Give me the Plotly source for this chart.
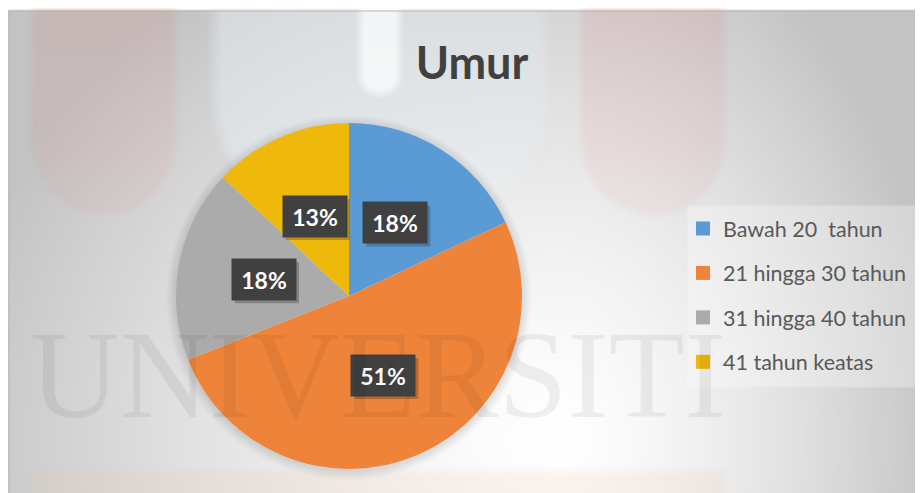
import math, zlib, struct, base64
import numpy as np
import plotly.graph_objects as go

# ---------------- data ----------------
categories = ["Bawah 20  tahun", "21 hingga 30 tahun", "31 hingga 40 tahun", "41 tahun keatas"]
percent_values = [18, 51, 18, 13]
slice_colors = ["#5B9BD5", "#EE843A", "#ABABAB", "#EFB90C"]
chart_title = "Umur"
watermark_text = "UNIVERSITI"

# ---------------- layout constants (page pixels) ----------------
PW, PH = 923, 493          # browser window
OFF = 8                    # default body margin of the page
FW, FH = PW - OFF, PH - OFF
PIE_CX, PIE_CY, PIE_R = 349, 296, 173
LABEL_RADIUS = 0.5
BOX_W, BOX_H, SHADOW = 64, 41, 3

def px2x(x):
    return (x - OFF) / FW

def px2y(y):
    return 1 - (y - OFF) / FH

# ---------------- background image (gradient + faint watermark) ----------------
def make_png(arr):
    h, w, _ = arr.shape
    prev = np.zeros_like(arr[0])
    rows = []
    for i in range(h):
        diff = (arr[i].astype(np.int16) - prev.astype(np.int16)) % 256
        rows.append(b"\x02" + diff.astype(np.uint8).tobytes())
        prev = arr[i]
    raw = b"".join(rows)
    def chunk(t, d):
        return struct.pack(">I", len(d)) + t + d + struct.pack(">I", zlib.crc32(t + d) & 0xffffffff)
    return (b"\x89PNG\r\n\x1a\n" + chunk(b"IHDR", struct.pack(">IIBBBBB", w, h, 8, 2, 0, 0, 0))
            + chunk(b"IDAT", zlib.compress(raw, 9)) + chunk(b"IEND", b""))

S = 2
h, w = (FH + S - 1) // S, (FW + S - 1) // S
X, Y = np.meshgrid(OFF + (np.arange(w) + 0.5) * S, OFF + (np.arange(h) + 0.5) * S)
img = np.full((h, w, 3), 255.0)
inside = (X >= 9) & (Y >= 11)
u = np.where(X < 560, (X - 560) / 620.0, (X - 560) / 390.0)
v = (Y - 440) / 560.0
d = np.clip(np.sqrt(u ** 2 + v ** 2), 0, 1)
g = 255 - 60 * d ** 1.4
img[inside] = np.repeat(g[inside][:, None], 3, axis=1)

def box_blur(a, r):
    if r <= 0:
        return a
    k = 2 * r + 1
    p = np.pad(a, r, mode="edge")
    c = np.cumsum(np.pad(p, ((0, 0), (1, 0))), axis=1)
    p = (c[:, k:] - c[:, :-k]) / k
    c = np.cumsum(np.pad(p, ((1, 0), (0, 0))), axis=0)
    return (c[k:, :] - c[:-k, :]) / k

def blend(mask, color, alpha, blur=2):
    a = box_blur(mask.astype(float), blur) * alpha
    a = a[:, :, None]
    img[:] = img * (1 - a) + np.array(color, float)[None, None, :] * a

def bar_mask(x0, x1, ybot):
    r = (x1 - x0) / 2.0
    cx = (x0 + x1) / 2.0
    return ((X >= x0) & (X <= x1) & (Y <= ybot - r)) | (((X - cx) ** 2 + (Y - (ybot - r)) ** 2) <= r * r)

def rounded_rect(x0, x1, ybot, rad):
    m = (X >= x0) & (X <= x1) & (Y <= ybot - rad)
    m |= (X >= x0 + rad) & (X <= x1 - rad) & (Y <= ybot)
    for cx in (x0 + rad, x1 - rad):
        m |= ((X - cx) ** 2 + (Y - (ybot - rad)) ** 2) <= rad * rad
    return m

pink_alpha = 0.15 - 0.07 * np.clip(Y / 215.0, 0, 1)
blend(bar_mask(33, 175, 215), (225, 120, 120), pink_alpha)
blend(bar_mask(583, 725, 215), (225, 120, 120), pink_alpha)
blend(rounded_rect(215, 545, 200, 95), (232, 242, 250), 0.42 * np.clip(1.15 - (X - 215) / 700.0, 0, 1), blur=3)
blend(bar_mask(360, 400, 95), (255, 255, 255), 0.7)
blend((X >= 33) & (X <= 723) & (Y >= 473), (235, 200, 170), 0.18)
blend((X >= 688) & (X <= 918) & (Y >= 207) & (Y <= 387), (255, 255, 255), 0.3, blur=0)
# soft shadow around the pie
rr = np.sqrt((X - PIE_CX) ** 2 + (Y - PIE_CY - 2) ** 2)
shadow = np.clip(1 - (rr - PIE_R) / 10.0, 0, 1) * (rr > PIE_R - 2)
img[:] = img * (1 - 0.12 * shadow[:, :, None])

png = make_png(np.clip(img, 0, 255).astype(np.uint8))
bg_uri = "data:image/png;base64," + base64.b64encode(png).decode()

# ---------------- figure ----------------
fig = go.Figure()
fig.add_trace(go.Pie(
    labels=categories, values=percent_values, sort=False, direction="clockwise", rotation=0,
    marker=dict(colors=slice_colors, line=dict(width=0)),
    textinfo="none", hoverinfo="label+percent", showlegend=False,
    domain=dict(x=[px2x(PIE_CX - PIE_R), px2x(PIE_CX + PIE_R)],
                y=[px2y(PIE_CY + PIE_R), px2y(PIE_CY - PIE_R)]),
))

# legend entries (one group per category so the gap between rows can be set)
for name, col in zip(categories, slice_colors):
    fig.add_trace(go.Scatter(x=[None], y=[None], mode="markers", name=name, legendgroup=name,
                             marker=dict(symbol="square", size=14, color=col)))

# data labels: dark boxes at half radius, mid-angle of each slice
total = sum(percent_values)
cum = 0
for val in percent_values:
    theta = 2 * math.pi * (cum + val / 2) / total
    cum += val
    lx = PIE_CX + LABEL_RADIUS * PIE_R * math.sin(theta)
    ly = PIE_CY - LABEL_RADIUS * PIE_R * math.cos(theta)
    # drop shadow of the label box
    fig.add_shape(type="rect", xref="paper", yref="paper", layer="above",
                  x0=px2x(lx - BOX_W / 2 + SHADOW), x1=px2x(lx + BOX_W / 2 + SHADOW),
                  y0=px2y(ly + BOX_H / 2 + SHADOW), y1=px2y(ly - BOX_H / 2 + SHADOW),
                  fillcolor="rgba(0,0,0,0.22)", line=dict(width=0))
    fig.add_annotation(x=px2x(lx), y=px2y(ly), xref="paper", yref="paper", showarrow=False,
                       xanchor="center", yanchor="middle", text=f"{val}%",
                       width=BOX_W, height=BOX_H, borderpad=0, bgcolor="#404040",
                       font=dict(family="Lato", size=23, color="white", weight="bold"))

# faint watermark text
fig.add_annotation(x=px2x(378), y=px2y(375), xref="paper", yref="paper", showarrow=False,
                   text=watermark_text, xanchor="center", yanchor="middle",
                   font=dict(family="Liberation Serif", size=124, color="rgba(0,0,0,0.06)"))

fig.add_shape(type="rect", xref="paper", yref="paper", x0=px2x(9), x1=1.01, y0=-0.01, y1=px2y(11),
              line=dict(color="#B8B8B8", width=1), fillcolor="rgba(0,0,0,0)", layer="below")

fig.update_layout(
    width=FW, height=FH, margin=dict(l=0, r=0, t=0, b=0),
    paper_bgcolor="white", plot_bgcolor="rgba(0,0,0,0)",
    xaxis=dict(visible=False), yaxis=dict(visible=False),
    title=dict(text=chart_title, x=px2x(472), y=px2y(63), xanchor="center", yanchor="middle",
               font=dict(family="Lato", size=45, color="#404040", weight="bold")),
    legend=dict(x=px2x(683), y=px2y(208), xanchor="left", yanchor="top", tracegroupgap=13.5,
                bgcolor="rgba(0,0,0,0)", font=dict(family="Lato", size=21.5, color="#595959")),
    images=[dict(source=bg_uri, xref="paper", yref="paper", x=0, y=1, sizex=1, sizey=1,
                 sizing="stretch", xanchor="left", yanchor="top", layer="below")],
)

fig.write_html("out.html")
